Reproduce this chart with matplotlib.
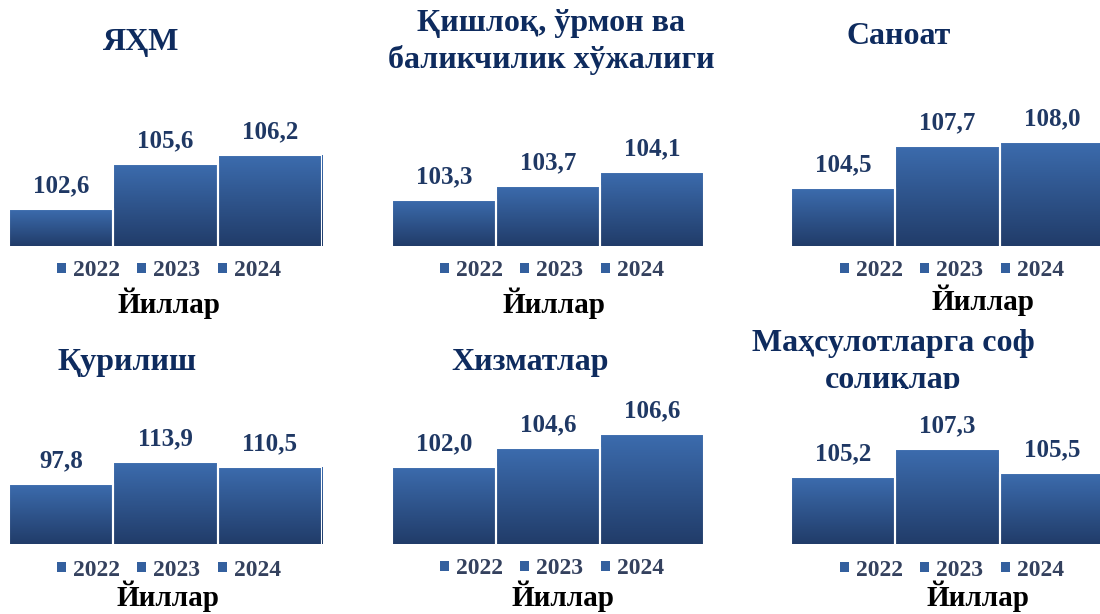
import numpy as np
import matplotlib.pyplot as plt
from matplotlib.patches import Patch
from matplotlib.transforms import Bbox, TransformedBbox
from matplotlib.colors import LinearSegmentedColormap

plt.rcParams['font.family'] = ['Liberation Serif', 'DejaVu Serif']

years = ['2022', '2023', '2024']
titles = [['ЯҲМ'],
          ['Қишлоқ, ўрмон ва', 'баликчилик хўжалиги'],
          ['Саноат'],
          ['Қурилиш'],
          ['Хизматлар'],
          ['Маҳсулотларга соф', 'солиқлар']]
yhm = [102.6, 105.6, 106.2]
qishloq = [103.3, 103.7, 104.1]
sanoat = [104.5, 107.7, 108.0]
qurilish = [97.8, 113.9, 110.5]
xizmat = [102.0, 104.6, 106.6]
soliq = [105.2, 107.3, 105.5]
series = [yhm, qishloq, sanoat, qurilish, xizmat, soliq]
xlabel = 'Йиллар'

W, H = 1100, 614
# layout in pixels: bar left, bar right, bar bottom, axis base, px per unit
boxes = [(9, 322, 246, 100.15, 15.0),
         (392, 704, 246, 102.0, 35.4),
         (791, 1104, 246, 100.17, 13.3),
         (9, 322, 544, 53.9, 1.366),
         (392, 704, 544, 91.0, 7.04),
         (791, 1104, 544, 100.17, 13.3)]
# title centre x, first baseline y
title_pos = [(141, 50), (551, 31), (899, 44), (127, 370), (530, 370), (893, 351)]
legend_pos = [(169, 271), (552, 271), (952, 271), (169, 570), (552, 569), (952, 570)]
label_pos = [(169, 313), (554, 313), (983, 310), (168, 606), (563, 606), (978, 606)]

navy = '#0e2b5e'
valcol = '#1f3864'
legcol = '#34415e'
cmap = LinearSegmentedColormap.from_list('bar', ['#213c69', '#3c6cae'])
grad = np.linspace(0, 1, 256).reshape(-1, 1)

fig = plt.figure(figsize=(W / 100, H / 100), dpi=100)


def fx(x):
    return x / W


def fy(y):
    return 1 - y / H


for k, vals in enumerate(series):
    l, r, b, base, ppu = boxes[k]
    hpx = 150
    ax = fig.add_axes([fx(l), fy(b), (r - l) / W, hpx / H])
    ax.axis('off')
    x = np.arange(len(vals))
    bars = ax.bar(x, vals, width=1.0, color='none', edgecolor='white',
                  linewidth=1.5, zorder=3)
    for i, (bar, v) in enumerate(zip(bars, vals)):
        im = ax.imshow(grad, cmap=cmap, origin='lower', aspect='auto',
                       extent=(i - 0.5, i + 0.5, base, v), zorder=2)
        im.set_clip_path(bar)
        ax.annotate(f'{v:.1f}'.replace('.', ','), (i, v), xytext=(0, 12),
                    textcoords='offset points', ha='center', va='baseline',
                    fontsize=18, fontweight='bold', color=valcol)
    ax.set_xlim(-0.5, 2.5)
    ax.set_ylim(base, base + hpx / ppu)

    handles = [Patch(facecolor='#34609e', label=y) for y in years]
    cx, cy = legend_pos[k]
    ax.legend(handles=handles, ncol=3, frameon=False, loc='center',
              bbox_to_anchor=(fx(cx), fy(cy)), bbox_transform=fig.transFigure,
              handlelength=0.38, handleheight=0.3, handletextpad=0.3,
              columnspacing=0.75, borderpad=0, labelcolor=legcol,
              prop={'family': 'Liberation Serif', 'weight': 'bold', 'size': 17})

    tx, ty = title_pos[k]
    for j, line in enumerate(titles[k]):
        t = fig.text(fx(tx), fy(ty + 37 * j), line, ha='center', va='baseline',
                     fontsize=23, fontweight='bold', color=navy)
        if k == 5:
            t.set_clip_box(TransformedBbox(Bbox([[0, fy(389)], [1, 1]]),
                                           fig.transFigure))
            t.set_clip_on(True)

    lx, ly = label_pos[k]
    fig.text(fx(lx), fy(ly), xlabel, ha='center', va='baseline',
             fontsize=21, fontweight='bold', color='black')

fig.savefig('out.png', dpi=100, facecolor='white')
